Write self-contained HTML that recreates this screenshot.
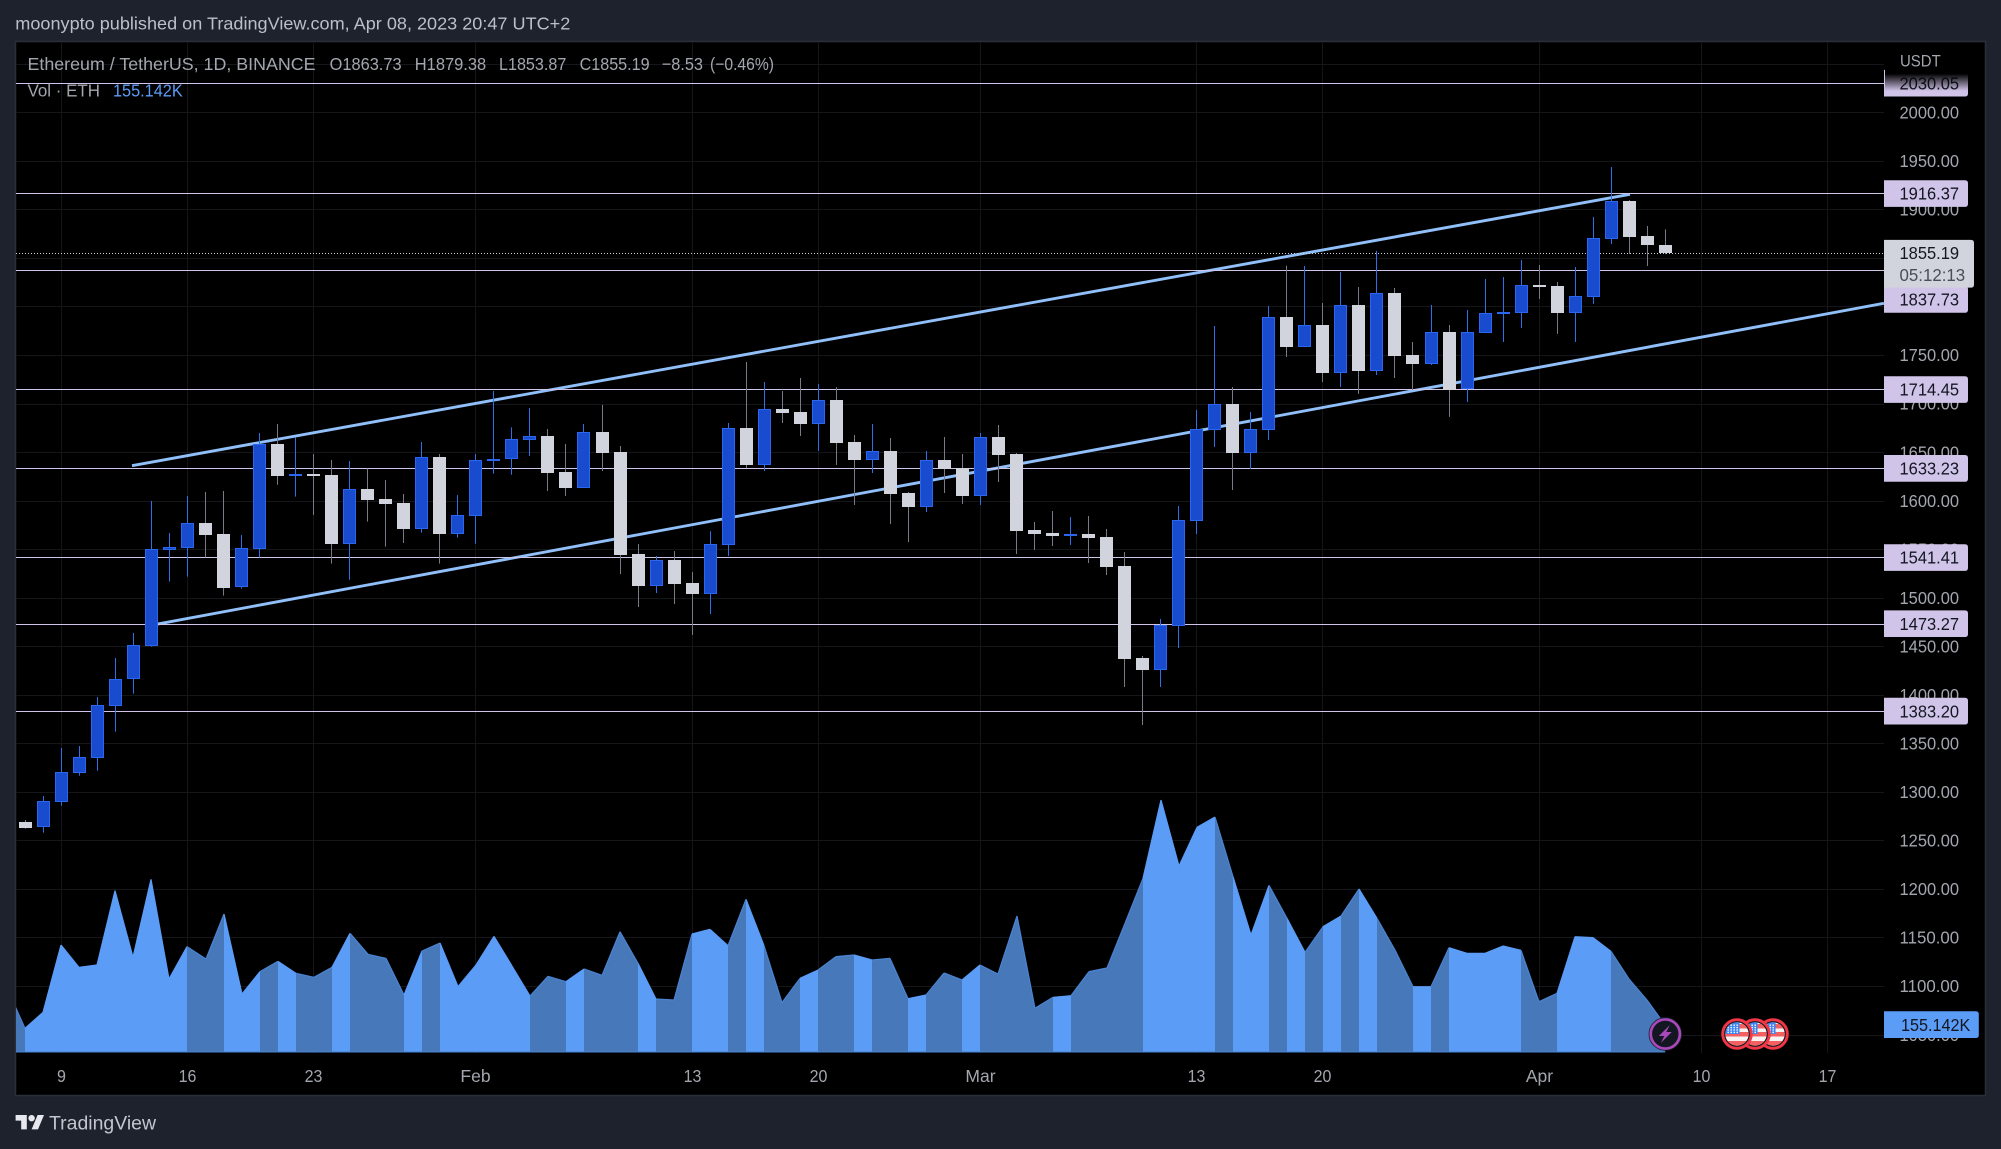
<!DOCTYPE html>
<html lang="en">
<head>
<meta charset="utf-8">
<title>ETH/USDT chart</title>
<style>
html,body{margin:0;padding:0;width:2001px;height:1149px;background:#1e222d;overflow:hidden}
svg{display:block}
text{font-family:"Liberation Sans",sans-serif}
</style>
</head>
<body>
<svg id="chart" xmlns="http://www.w3.org/2000/svg" width="2001" height="1149" viewBox="0 0 2001 1149">
  <rect x="0" y="0" width="2001" height="1149" fill="#1e222d"/>
  <text x="15.3" y="29.3" font-size="17.5" fill="#bcbfc7" textLength="555" lengthAdjust="spacingAndGlyphs">moonypto published on TradingView.com, Apr 08, 2023 20:47 UTC+2</text>
  <rect x="15.5" y="41.5" width="1970" height="1054" fill="#000000" stroke="#2a2e39" stroke-width="1.5"/>
  <defs>
    <clipPath id="plot-clip"><rect x="16" y="42" width="1868" height="1011"/></clipPath>
    <linearGradient id="top-fade" x1="0" y1="0" x2="0" y2="1">
      <stop offset="0" stop-color="#000" stop-opacity="1"/>
      <stop offset="0.25" stop-color="#000" stop-opacity="1"/>
      <stop offset="1" stop-color="#000" stop-opacity="0"/>
    </linearGradient>
  </defs>
  <g id="grid"></g>
  <g id="ticks"></g>
  <g id="times"></g>
  <g id="series" clip-path="url(#plot-clip)"></g>
  <g id="labels"></g>
  <g id="events"></g>
  <g font-size="17.5" fill="#a3a6ae">
    <text x="27.5" y="70.2" textLength="288" lengthAdjust="spacingAndGlyphs">Ethereum / TetherUS, 1D, BINANCE</text>
    <text x="329.6" y="70.2" textLength="72" lengthAdjust="spacingAndGlyphs">O1863.73</text>
    <text x="414.8" y="70.2" textLength="71.4" lengthAdjust="spacingAndGlyphs">H1879.38</text>
    <text x="499" y="70.2" textLength="67.3" lengthAdjust="spacingAndGlyphs">L1853.87</text>
    <text x="579.6" y="70.2" textLength="70" lengthAdjust="spacingAndGlyphs">C1855.19</text>
    <text x="661.7" y="70.2" textLength="41.3" lengthAdjust="spacingAndGlyphs">−8.53</text>
    <text x="710" y="70.2" textLength="64" lengthAdjust="spacingAndGlyphs">(−0.46%)</text>
    <text x="27.5" y="96.7" textLength="72.5" lengthAdjust="spacingAndGlyphs">Vol · ETH</text>
    <text x="113" y="96.7" fill="#5b9cf6" textLength="69.7" lengthAdjust="spacingAndGlyphs">155.142K</text>
  </g>
  <g>
    <g transform="translate(15.6 1111.8) scale(0.8)" fill="#e6e8ee">
      <path d="M14 22H7V11H0V4h14v18zM28 22h-8l7.5-18h8L28 22z"/>
      <circle cx="20" cy="8" r="4"/>
    </g>
    <text x="49" y="1129.7" font-size="19.5" fill="#c3c6ce" textLength="107" lengthAdjust="spacingAndGlyphs">TradingView</text>
  </g>
</svg>
<script>
// ---- chart data ----
const opens = [
1269.0,1263.5,1289.9,1319.8,1335.2,1388.8,1415.9,1450.6,1549.5,1551.5,
1577.0,1565.6,1511.4,1550.5,1658.3,1625.4,1627.4,1626.4,1555.7,1612.0,
1601.7,1597.5,1571.1,1644.9,1566.0,1584.5,1640.8,1642.5,1662.8,1666.6,
1629.5,1613.3,1670.7,1650.1,1545.0,1512.4,1538.9,1515.1,1504.2,1554.6,
1674.8,1637.0,1694.4,1691.3,1679.3,1703.6,1660.4,1642.2,1651.1,1607.9,
1593.8,1641.8,1633.6,1605.1,1665.5,1648.0,1569.7,1566.6,1563.5,1565.6,
1562.5,1532.7,1437.9,1425.9,1471.2,1579.3,1673.1,1699.5,1649.4,1673.1,
1789.1,1758.6,1780.9,1731.8,1801.5,1733.9,1813.9,1750.0,1741.1,1773.7,
1714.7,1773.0,1792.3,1793.6,1822.1,1821.1,1793.6,1810.1,1869.9,1908.7,
1872.6,1863.73];
const closes = [
1262.8,1290.2,1320.1,1335.6,1389.1,1415.9,1450.9,1549.8,1551.9,1576.6,
1564.6,1510.0,1550.9,1658.3,1625.4,1627.4,1625.4,1555.3,1611.6,1600.6,
1596.5,1570.8,1644.6,1565.6,1584.9,1641.5,1642.9,1663.1,1666.2,1628.5,
1613.0,1670.3,1649.1,1544.0,1512.0,1538.5,1514.1,1503.8,1555.0,1674.5,
1636.7,1694.0,1690.3,1678.9,1703.3,1659.4,1641.8,1650.8,1606.8,1593.4,
1641.5,1632.6,1604.8,1665.2,1647.0,1568.7,1565.6,1563.5,1565.6,1561.5,
1531.6,1436.9,1425.5,1471.5,1579.7,1673.4,1699.2,1649.0,1673.4,1788.8,
1758.2,1780.6,1731.5,1801.2,1733.5,1813.6,1749.0,1740.7,1773.4,1714.3,
1773.4,1793.0,1794.0,1821.8,1820.1,1793.3,1810.5,1870.2,1908.3,1871.6,
1863.3,1855.19];
const highs = [
1271.0,1295.7,1345.2,1347.2,1397.7,1437.9,1463.6,1599.6,1566.7,1604.8,
1608.9,1609.9,1564.6,1669.7,1678.9,1665.2,1648.0,1641.8,1640.8,1632.9,
1621.2,1606.8,1660.4,1648.0,1605.8,1648.0,1713.0,1675.5,1695.4,1673.8,
1658.3,1678.9,1698.5,1656.3,1555.3,1543.0,1548.1,1526.5,1568.4,1680.0,
1742.8,1722.2,1712.9,1726.3,1720.1,1717.0,1667.6,1678.9,1664.5,1608.9,
1651.1,1665.5,1648.0,1669.7,1677.9,1649.1,1578.0,1589.3,1583.1,1584.2,
1570.8,1547.1,1439.9,1478.1,1594.5,1693.3,1779.9,1717.0,1691.3,1800.5,
1842.0,1841.7,1803.6,1835.5,1820.1,1857.2,1819.0,1763.4,1801.5,1780.9,
1796.4,1828.3,1830.4,1847.9,1842.7,1825.2,1840.7,1892.2,1943.7,1909.7,
1882.9,1879.38];
const lows = [
1262.1,1258.0,1285.8,1316.7,1321.8,1362.0,1401.2,1449.6,1516.5,1521.7,
1541.6,1502.1,1509.3,1541.6,1616.4,1604.1,1585.2,1535.1,1518.6,1578.3,
1552.6,1556.3,1567.0,1535.1,1561.8,1555.7,1627.8,1626.7,1646.0,1609.9,
1604.8,1613.3,1630.5,1524.4,1490.4,1504.8,1493.5,1461.6,1483.2,1543.0,
1633.6,1630.5,1680.0,1666.6,1651.1,1636.7,1595.5,1628.5,1575.9,1557.4,
1588.3,1607.9,1596.5,1595.5,1619.2,1545.0,1549.1,1553.2,1554.3,1535.7,
1523.4,1408.0,1368.9,1408.0,1448.2,1565.6,1655.2,1610.9,1632.6,1662.4,
1747.9,1758.6,1722.2,1717.1,1709.9,1729.4,1726.3,1714.0,1739.7,1686.2,
1701.6,1773.0,1763.4,1777.8,1807.7,1771.7,1763.4,1802.6,1864.4,1854.1,
1841.7,1853.87];
// volume in thousands of ETH, one per candle
const volumePrevious = 363;
const volumes = [
136.2,227.1,609.5,482.7,495.9,918.1,539.5,982.5,416.4,600.0,
530.0,785.6,331.2,458.1,516.7,448.6,425.9,482.7,675.8,556.5,
533.8,325.5,575.4,620.9,372.9,495.9,658.7,490.2,319.8,431.5,
401.3,473.2,437.2,685.2,505.4,302.8,297.1,672.0,698.5,605.7,
868.9,605.7,282.0,420.2,467.5,543.3,552.7,524.3,533.8,304.7,
325.5,450.5,410.7,495.9,444.8,774.2,249.8,312.3,321.7,458.1,
478.9,732.6,988.2,1433.1,1058.2,1277.9,1336.5,997.6,666.3,948.4,
761.0,567.9,713.6,774.2,927.6,761.0,581.0,372.8,372.8,594.4,
562.2,562.2,603.8,579.2,287.6,335.0,656.8,651.2,573.5,416.4,
297.1,155.142];
const priceTicks = [2000,1950,1900,1850,1800,1750,1700,1650,1600,1550,1500,1450,1400,1350,1300,1250,1200,1150,1100,1050];
const gridOnlyPrice = [2050];
const priceTickLabels = ["2000.00","1950.00","1900.00","1850.00","1800.00","1750.00","1700.00","1650.00","1600.00","1550.00","1500.00","1450.00","1400.00","1350.00","1300.00","1250.00","1200.00","1150.00","1100.00","1050.00"];
const timeTickBars = [2,9,16,25,37,44,53,65,72,84,93,100];
const timeTickLabels = ["9","16","23","Feb","13","20","Mar","13","20","Apr","10","17"];
const levelValues = [2030.05,1916.37,1837.73,1714.45,1633.23,1541.41,1473.27,1383.20];
const levelLabels = ["2030.05","1916.37","1837.73","1714.45","1633.23","1541.41","1473.27","1383.20"];
const upperChannelBars = [5.92,89.04];
const upperChannelPrices = [1636,1915.5];
const lowerChannelBars = [7,103.13];
const lowerChannelPrices = [1471.7,1803.3];
const lastPrice = 1855.19;
const lastPriceLabel = "1855.19";
const countdownLabel = "05:12:13";
const lastVolumeLabel = "155.142K";
const dividendEventBars = [91];
const economicEventBars = [97,96,95];

// ---- axis functions ----
const xScale = i => 25.3 + 18.022 * i;
const yScale = p => 112.3 + (2000 - p) * 0.9708;
const volumeY = v => 1052.3 - v / 5.68;
const crispX = i => Math.round(xScale(i) - 0.5) + 0.5;
const crispY = p => Math.floor(yScale(p) + 0.4) + 0.5;
const PLOT_LEFT = 16, PLOT_RIGHT = 1884, PLOT_BOTTOM = 1053;
const AXIS_FONT = 17.5, PRICE_TEXT_WIDTH = 59.6;

const NS = 'http://www.w3.org/2000/svg';
function svgEl(tag, attrs, parent) {
  const e = document.createElementNS(NS, tag);
  for (const k in attrs) e.setAttribute(k, attrs[k]);
  parent.appendChild(e);
  return e;
}
const gridG = document.getElementById('grid');
const ticksG = document.getElementById('ticks');
const timesG = document.getElementById('times');
const seriesG = document.getElementById('series');
const labelsG = document.getElementById('labels');
const eventsG = document.getElementById('events');
const GRID = '#141619';
const TICK = '#a3a6ae';
const LEVEL = '#d1c4e9';

// grid + price ticks
gridOnlyPrice.concat(priceTicks).forEach(p => {
  const y = Math.round(yScale(p)) + 0.5;
  const l = svgEl('line', {x1: PLOT_LEFT, x2: PLOT_RIGHT, y1: y, y2: y, stroke: GRID, 'stroke-width': 1}, gridG);
  
  
});
priceTicks.forEach((p, k) => {
  const t = svgEl('text', {x: 1899.5, y: yScale(p) + 6.2, 'font-size': AXIS_FONT, fill: TICK, textLength: PRICE_TEXT_WIDTH, lengthAdjust: 'spacingAndGlyphs'}, ticksG);
  t.textContent = priceTickLabels[k];
  
  
});
const usdt = svgEl('text', {x: 1900, y: 66.6, 'font-size': 16.5, fill: TICK, textLength: 40.7, lengthAdjust: 'spacingAndGlyphs'}, ticksG);
usdt.textContent = 'USDT';



// time ticks + vertical grid
timeTickBars.forEach((b, k) => {
  const x = crispX(b);
  const l = svgEl('line', {x1: x, x2: x, y1: 42, y2: PLOT_BOTTOM, stroke: GRID, 'stroke-width': 1}, gridG);
  
  
  const t = svgEl('text', {x: x, y: 1081.9, 'font-size': AXIS_FONT, fill: TICK, 'text-anchor': 'middle'}, timesG);
  t.textContent = timeTickLabels[k];
  if (/^\d+$/.test(timeTickLabels[k])) {
    t.setAttribute('textLength', timeTickLabels[k].length * 8.9);
    t.setAttribute('lengthAdjust', 'spacingAndGlyphs');
  }
  
  
});

// volume area, one coloured band per candle
const BRIGHT = '#5b9cf6', DARK = '#4678ba', DARK_EDGE = '#4a84d2';
volumes.forEach((v, i) => {
  const prev = i === 0 ? volumePrevious : volumes[i - 1];
  const up = closes[i] >= opens[i];
  const x0 = Math.round(xScale(i - 1)), x1 = Math.round(xScale(i));
  const y0 = volumeY(prev), y1 = volumeY(v);
  const band = svgEl('polygon', {points: x0 + ',' + y0 + ' ' + x1 + ',' + y1 + ' ' + x1 + ',' + 1052.3 + ' ' + x0 + ',' + 1052.3, fill: up ? BRIGHT : DARK}, seriesG);
  
  
  const edge = svgEl('line', {x1: x0, y1: y0, x2: x1, y2: y1, stroke: up ? BRIGHT : DARK_EDGE, 'stroke-width': 1.2}, seriesG);
  
  
});
const base = svgEl('line', {x1: PLOT_LEFT, x2: xScale(volumes.length - 1), y1: 1052, y2: 1052, stroke: DARK_EDGE, 'stroke-width': 1}, seriesG);



// channel lines
const up1 = svgEl('line', {x1: xScale(upperChannelBars[0]), y1: yScale(upperChannelPrices[0]), x2: xScale(upperChannelBars[1]), y2: yScale(upperChannelPrices[1]), stroke: '#90bff9', 'stroke-width': 2.9}, seriesG);


const lo1 = svgEl('line', {x1: xScale(lowerChannelBars[0]), y1: yScale(lowerChannelPrices[0]), x2: xScale(lowerChannelBars[1]), y2: yScale(lowerChannelPrices[1]), stroke: '#90bff9', 'stroke-width': 2.9}, seriesG);



// horizontal levels
levelValues.forEach(v => {
  const y = crispY(v);
  const l = svgEl('line', {x1: PLOT_LEFT, x2: PLOT_RIGHT, y1: y, y2: y, stroke: LEVEL, 'stroke-width': 1}, seriesG);
  
  
});
const lastY = crispY(lastPrice);
const dotted = svgEl('line', {x1: PLOT_LEFT, x2: PLOT_RIGHT, y1: lastY, y2: lastY, stroke: '#d1d4dc', 'stroke-width': 1, 'stroke-dasharray': '1 2'}, seriesG);



// candles
opens.forEach((o, i) => {
  const up = closes[i] >= o;
  const c = crispX(i);
  const top = Math.round(yScale(Math.max(o, closes[i])));
  const bot = Math.round(yScale(Math.min(o, closes[i])));
  const wick = svgEl('line', {x1: c, x2: c, y1: yScale(highs[i]), y2: yScale(lows[i]), stroke: up ? '#2f6fe8' : '#787b86', 'stroke-width': 1}, seriesG);
  
  
  const body = up
    ? svgEl('rect', {x: c - 6, y: top + 0.5, width: 12, height: Math.max(1, bot - top - 1), fill: '#194bcf', stroke: '#2a66ef', 'stroke-width': 1}, seriesG)
    : svgEl('rect', {x: c - 6.5, y: top, width: 13, height: Math.max(2, bot - top), fill: '#d1d4dc'}, seriesG);
  
  
});

// right-hand labels
const LABEL_X = PLOT_RIGHT;
function tagPath(x, y, w, h, r) {
  return 'M' + x + ' ' + y + 'H' + (x + w - r) + 'Q' + (x + w) + ' ' + y + ' ' + (x + w) + ' ' + (y + r) +
    'V' + (y + h - r) + 'Q' + (x + w) + ' ' + (y + h) + ' ' + (x + w - r) + ' ' + (y + h) + 'H' + x + 'Z';
}
const lastBoxTop = yScale(lastPrice) - 13;
const lastBoxBottom = lastBoxTop + 47.7;
levelValues.forEach((v, k) => {
  let cy = yScale(v);
  if (cy > lastBoxTop - 13 && cy < lastBoxBottom + 13) cy = lastBoxBottom - 1.5 + 13.3;
  const box = svgEl('path', {d: tagPath(LABEL_X, cy - 13.3, 84, 26.7, 3), fill: LEVEL}, labelsG);
  
  
  const t = svgEl('text', {x: 1899.5, y: cy + 6.2, 'font-size': AXIS_FONT, fill: '#131722', textLength: PRICE_TEXT_WIDTH, lengthAdjust: 'spacingAndGlyphs'}, labelsG);
  t.textContent = levelLabels[k];
  
  
});
const fade = svgEl('rect', {x: LABEL_X + 1, y: 68, width: 86, height: 23, fill: 'url(#top-fade)'}, labelsG);


const usdt2 = usdt.cloneNode(true);
labelsG.appendChild(usdt2);
usdt.remove();

const lastBox = svgEl('path', {d: tagPath(LABEL_X, lastBoxTop, 90, 47.7, 3), fill: '#d1d4dc'}, labelsG);


const lastText = svgEl('text', {x: 1899.5, y: yScale(lastPrice) + 6.2, 'font-size': AXIS_FONT, fill: '#131722', textLength: PRICE_TEXT_WIDTH, lengthAdjust: 'spacingAndGlyphs'}, labelsG);
lastText.textContent = lastPriceLabel;


const cdText = svgEl('text', {x: 1899.5, y: yScale(lastPrice) + 28.2, 'font-size': AXIS_FONT, fill: '#4a4e58', textLength: 65.7, lengthAdjust: 'spacingAndGlyphs'}, labelsG);
cdText.textContent = countdownLabel;


const volBox = svgEl('path', {d: tagPath(LABEL_X, volumeY(volumes[volumes.length - 1]) - 13.7, 94.8, 26.7, 3), fill: '#5b9cf6'}, labelsG);


const volText = svgEl('text', {x: 1901, y: volumeY(volumes[volumes.length - 1]) + 6.2, 'font-size': AXIS_FONT, fill: '#131722', textLength: 69.3, lengthAdjust: 'spacingAndGlyphs'}, labelsG);
volText.textContent = lastVolumeLabel;



// event markers
const EVENT_Y = 1034;
dividendEventBars.forEach(b => {
  const cx = xScale(b);
  const ring = svgEl('circle', {cx: cx, cy: EVENT_Y, r: 14.6, fill: '#131722', stroke: '#ab47bc', 'stroke-width': 2.8}, eventsG);
  
  
  const o = svgEl('circle', {cx: cx, cy: EVENT_Y, r: 16.3, fill: 'none', stroke: '#1e222d', 'stroke-width': 0.8}, eventsG);
  
  
  const pts = [[4.5,-9],[-6.5,2],[-1,2],[-4.5,9],[6.5,-2],[1,-2]].map(q => (cx + q[0]) + ',' + (EVENT_Y + q[1])).join(' ');
  const bolt = svgEl('polygon', {points: pts, fill: '#ab47bc'}, eventsG);
  
  
});
const defs = document.querySelector('defs');
economicEventBars.forEach((b, n) => {
  const cx = xScale(b) - 0.4;
  const clip = svgEl('clipPath', {id: 'flag-clip-' + n}, defs);
  svgEl('circle', {cx: cx, cy: EVENT_Y, r: 11.7}, clip);
  const ring = svgEl('circle', {cx: cx, cy: EVENT_Y, r: 14.3, fill: '#17181f', stroke: '#f23645', 'stroke-width': 2.9}, eventsG);
  
  
  const flag = svgEl('g', {'clip-path': 'url(#flag-clip-' + n + ')'}, eventsG);
  
  
  svgEl('rect', {x: cx - 12, y: EVENT_Y - 12, width: 24, height: 24, fill: '#f7f3f3'}, flag);
  [-10, -2, 7].forEach(dy => {
    svgEl('rect', {x: cx - 12, y: EVENT_Y + dy, width: 24, height: dy === 7 ? 6 : 4.5, fill: '#f4605f'}, flag);
  });
  svgEl('rect', {x: cx - 12, y: EVENT_Y - 12, width: 14.5, height: 12, fill: '#3d86f2'}, flag);
  for (let a = 0; a < 4; a++) for (let c = 0; c < 4; c++) {
    svgEl('rect', {x: cx - 9.5 + c * 3, y: EVENT_Y - 9.5 + a * 2.4, width: 1.4, height: 1.4, fill: '#ffffff'}, flag);
  }
});
</script>
</body>
</html>
